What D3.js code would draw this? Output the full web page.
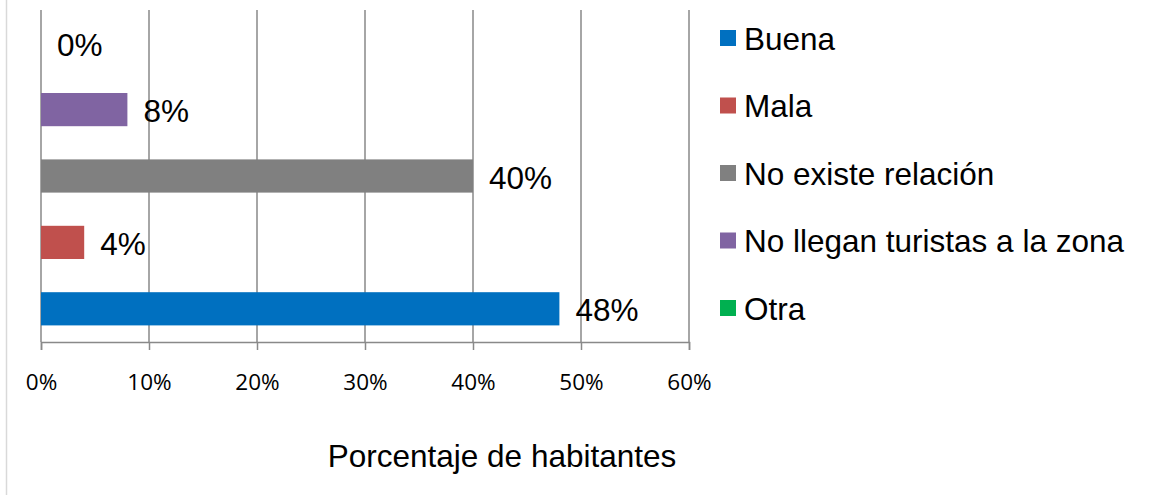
<!DOCTYPE html>
<html lang="es">
<head>
<meta charset="UTF-8">
<title>Porcentaje de habitantes</title>
<script src="https://cdn.jsdelivr.net/npm/d3@7"></script>
<style>
  html, body { margin: 0; padding: 0; background: #fff; }
  svg { display: block; }
</style>
</head>
<body>
<script>
// categorias (de abajo hacia arriba, como en la leyenda)
var categories = ["Buena", "Mala", "No existe relación", "No llegan turistas a la zona", "Otra"];
var values = [48, 4, 40, 8, 0];
var colors = ["#0070C0", "#C0504D", "#808080", "#8064A2", "#00B050"];
var ticks = [0, 10, 20, 30, 40, 50, 60];
var axisTitle = "Porcentaje de habitantes";

(function() {
  var width = 1154, height = 495;
  var left = 41, right = 689, top = 10, bottom = 342;
  var font = "'Liberation Sans', Arial, sans-serif";

  var svg = d3.select("body").append("svg")
    .attr("width", width)
    .attr("height", height);

  // borde izquierdo del marco
  svg.append("line")
    .attr("x1", 6.5).attr("x2", 6.5)
    .attr("y1", 0).attr("y2", height)
    .attr("stroke", "#d9d9d9").attr("stroke-width", 1.5);

  var x = d3.scaleLinear().domain([0, 60]).range([left, right]);
  var y = d3.scaleBand()
    .domain(categories.slice().reverse())
    .range([top, bottom])
    .paddingInner(0.5).paddingOuter(0.25);

  // rejilla vertical
  svg.append("g").selectAll("line")
    .data(ticks)
    .enter().append("line")
    .attr("x1", function(d) { return x(d); })
    .attr("x2", function(d) { return x(d); })
    .attr("y1", top).attr("y2", bottom)
    .attr("stroke", "#898989").attr("stroke-width", 1.5);

  // eje x
  var axis = d3.axisBottom(x)
    .tickValues(ticks)
    .tickSize(8)
    .tickFormat(function(d) { return d + "%"; });

  var gx = svg.append("g")
    .attr("transform", "translate(0," + bottom + ")")
    .call(axis);
  gx.select(".domain").attr("stroke", "#898989").attr("stroke-width", 1.5);
  gx.selectAll(".tick line").attr("stroke", "#898989").attr("stroke-width", 1.5);
  gx.selectAll(".tick text")
    .attr("y", 48).attr("dy", 0)
    .style("font-family", "'Open Sans', sans-serif")
    .style("font-size", "22.5px")
    .attr("fill", "#000");

  // barras
  var bars = svg.append("g").selectAll("rect")
    .data(categories)
    .enter().append("rect")
    .attr("x", x(0))
    .attr("y", function(d) { return y(d); })
    .attr("width", function(d, i) { return x(values[i]) - x(0); })
    .attr("height", y.bandwidth())
    .attr("fill", function(d, i) { return colors[i]; });

  // etiquetas de datos
  svg.append("g").selectAll("text")
    .data(categories)
    .enter().append("text")
    .attr("x", function(d, i) { return x(values[i]) + 16; })
    .attr("y", function(d) { return y(d) + y.bandwidth() / 2 + 12.5; })
    .style("font-family", font)
    .style("font-size", "31.5px")
    .text(function(d, i) { return values[i] + "%"; });

  // titulo del eje
  svg.append("text")
    .attr("x", 502).attr("y", 467)
    .attr("text-anchor", "middle")
    .style("font-family", font)
    .style("font-size", "31.5px")
    .text(axisTitle);

  // leyenda
  var legend = svg.append("g").selectAll("g")
    .data(categories)
    .enter().append("g")
    .attr("transform", function(d, i) { return "translate(720," + (49.5 + i * 67.5) + ")"; });

  legend.append("rect")
    .attr("x", 0).attr("y", -19.5)
    .attr("width", 16).attr("height", 16)
    .attr("fill", function(d, i) { return colors[i]; });

  legend.append("text")
    .attr("x", 24).attr("y", 0)
    .style("font-family", font)
    .style("font-size", "31.5px")
    .text(function(d) { return d; });
})();
</script>
</body>
</html>
